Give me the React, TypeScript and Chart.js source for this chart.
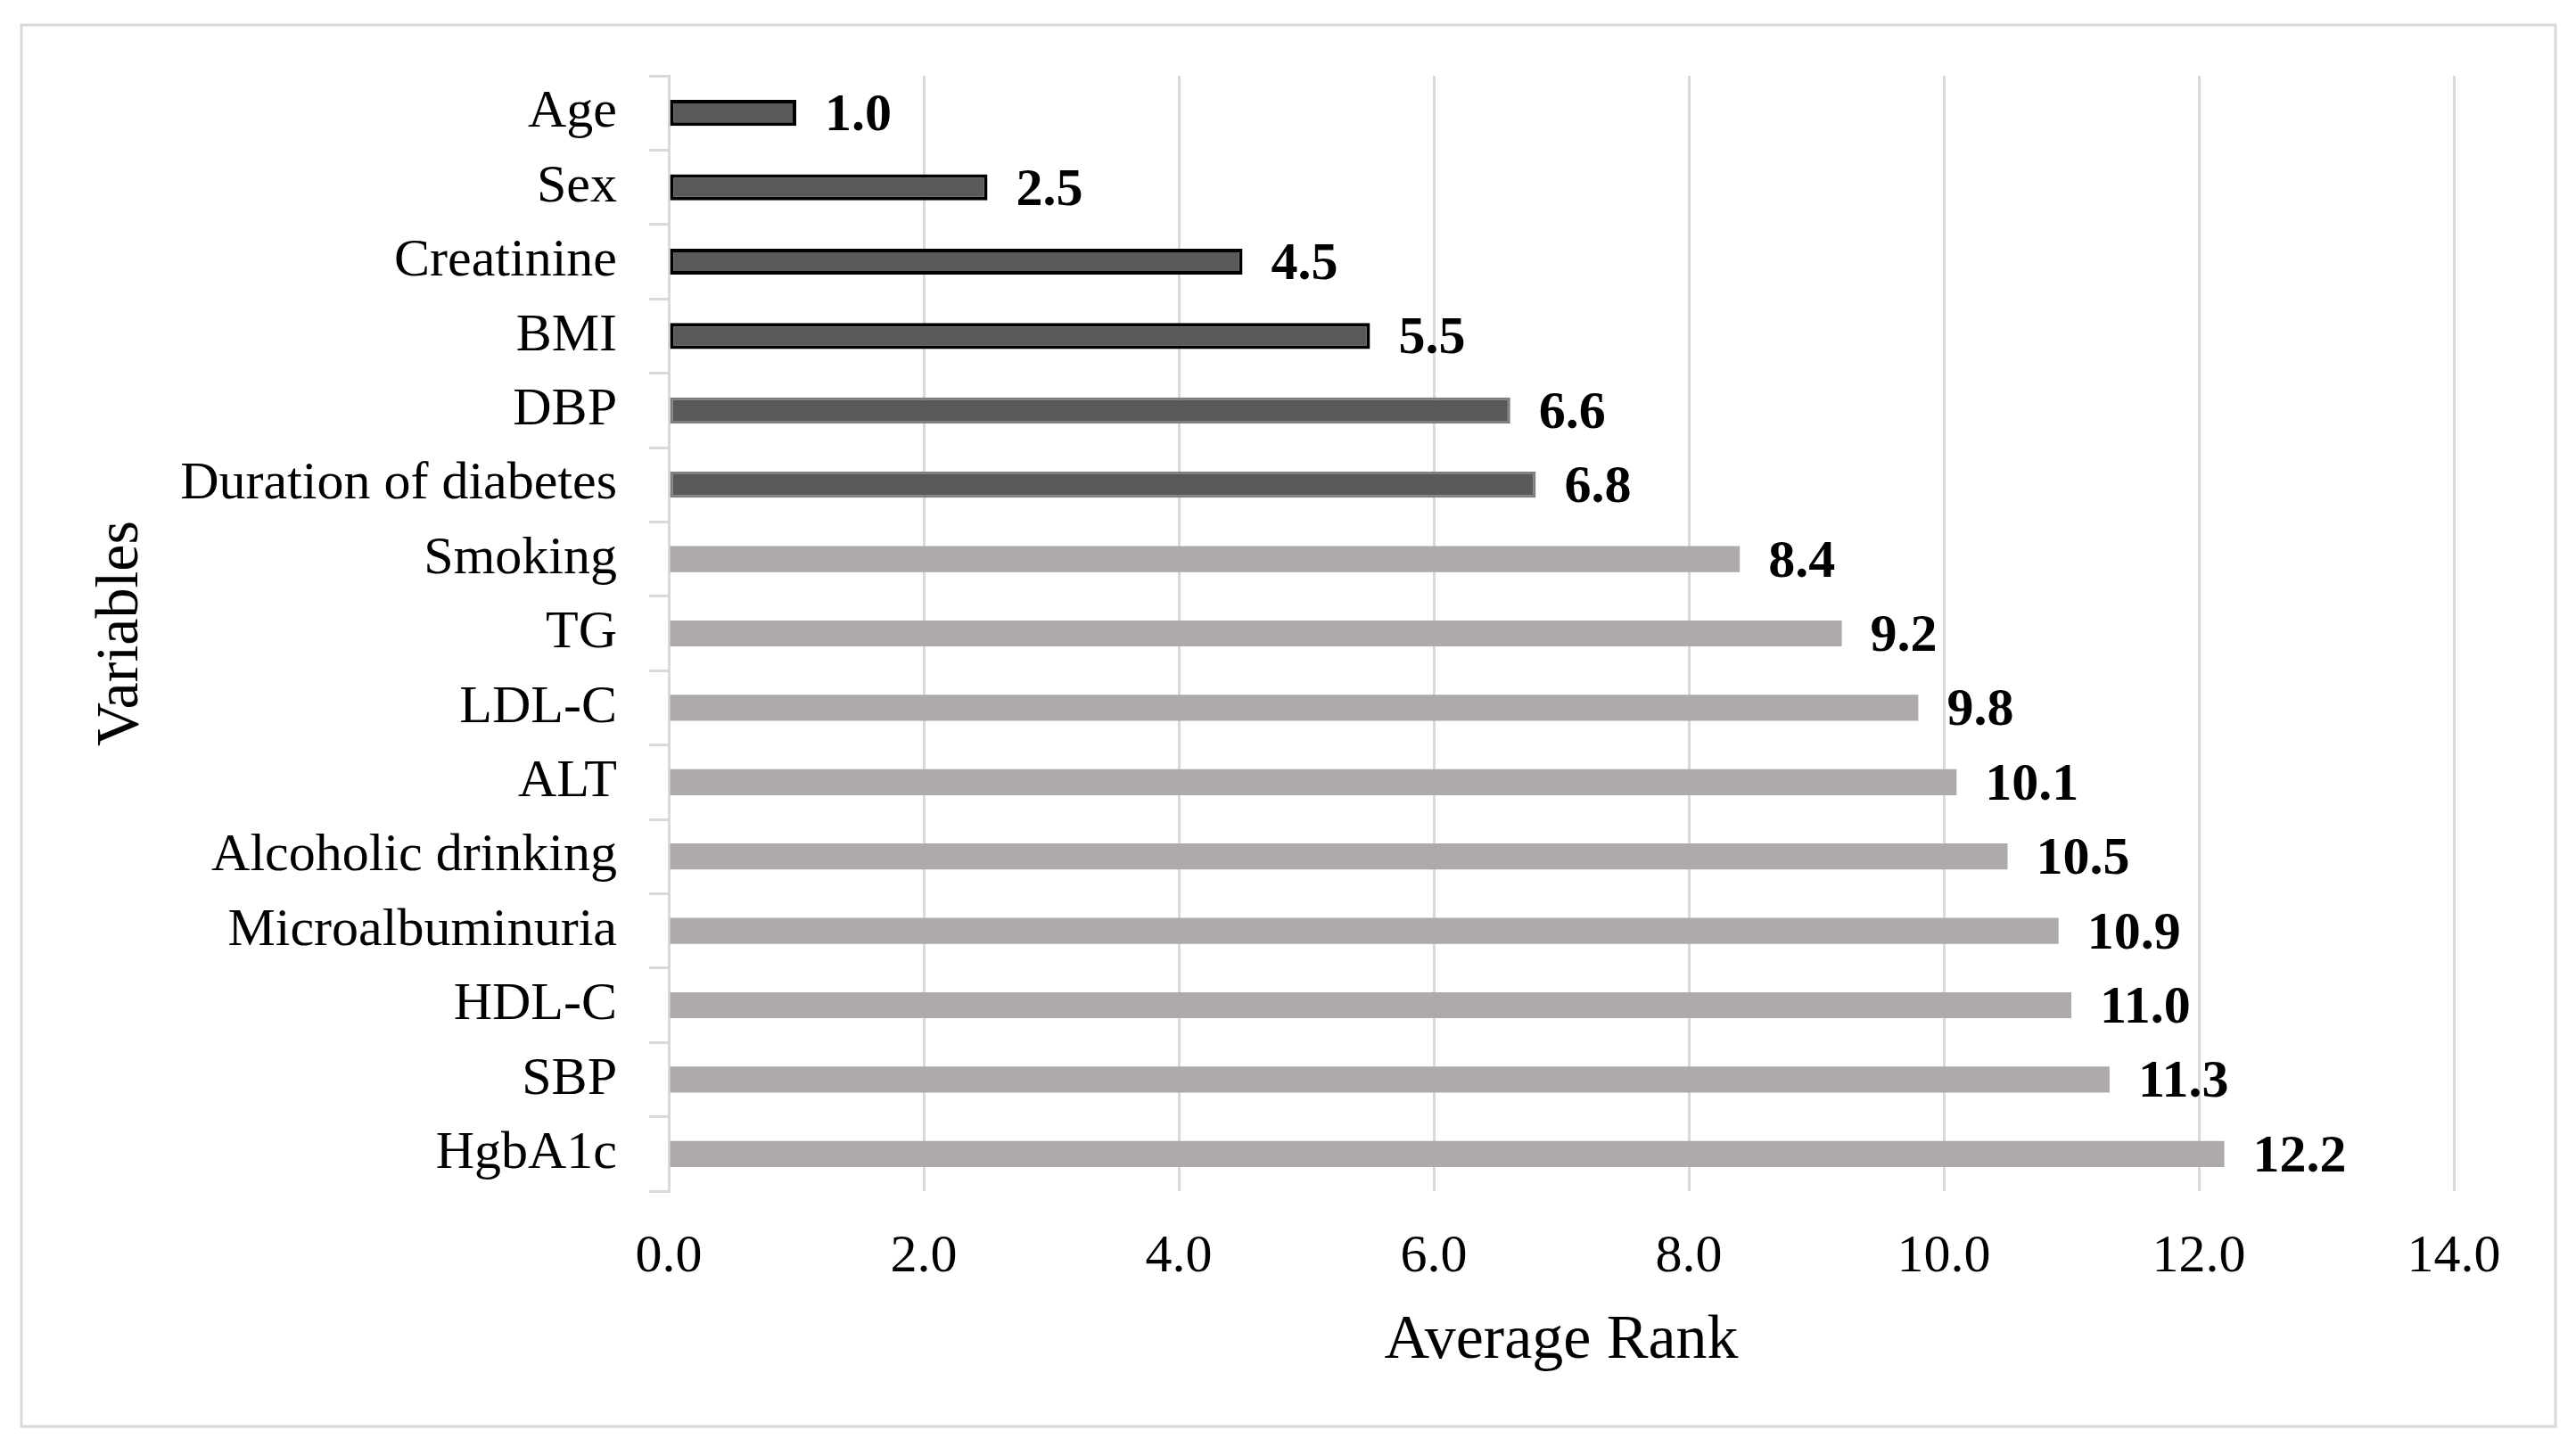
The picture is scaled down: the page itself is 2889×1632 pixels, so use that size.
import React, { useEffect, useRef } from 'react';
import { Chart, registerables } from 'chart.js';

Chart.register(...registerables);

// ---- data ----
const categories: string[] = [
  'Age',
  'Sex',
  'Creatinine',
  'BMI',
  'DBP',
  'Duration of diabetes',
  'Smoking',
  'TG',
  'LDL-C',
  'ALT',
  'Alcoholic drinking',
  'Microalbuminuria',
  'HDL-C',
  'SBP',
  'HgbA1c',
];
const averageRank: number[] = [1.0, 2.5, 4.5, 5.5, 6.6, 6.8, 8.4, 9.2, 9.8, 10.1, 10.5, 10.9, 11.0, 11.3, 12.2];
const xTickValues: number[] = [0, 2, 4, 6, 8, 10, 12, 14];
const xAxisTitle = 'Average Rank';
const yAxisTitle = 'Variables';
const highlightedCount = 6; // first six variables drawn dark

const W = 2889;
const H = 1632;
const SERIF = '"Liberation Serif", "Times New Roman", "DejaVu Serif", serif';

const frame = {
  id: 'frame',
  beforeDraw(chart: any) {
    const ctx = chart.ctx;
    ctx.save();
    ctx.fillStyle = '#ffffff';
    ctx.fillRect(0, 0, chart.width, chart.height);
    ctx.strokeStyle = '#d9d9d9';
    ctx.lineWidth = 3;
    ctx.strokeRect(24, 28, 2842, 1572);
    ctx.restore();
  },
};

const valueLabels = {
  id: 'valueLabels',
  afterDatasetsDraw(chart: any) {
    const ctx = chart.ctx;
    const meta = chart.getDatasetMeta(0);
    ctx.save();
    ctx.font = `bold 60px ${SERIF}`;
    ctx.fillStyle = '#000000';
    ctx.textAlign = 'left';
    ctx.textBaseline = 'middle';
    meta.data.forEach((el: any, i: number) => {
      const v = chart.data.datasets[0].data[i] as number;
      ctx.fillText(v.toFixed(1), el.x + 32, el.y + 4);
    });
    ctx.restore();
  },
};

export default function App() {
  const ref = useRef<HTMLCanvasElement | null>(null);

  useEffect(() => {
    if (!ref.current) return;
    const bg = categories.map((_, i) => (i < highlightedCount ? '#595959' : '#aeaaaa'));
    const bc = categories.map((_, i) => (i < 4 ? '#000000' : i < highlightedCount ? '#7f7f7f' : 'rgba(0,0,0,0)'));
    const bw = categories.map((_, i) => (i < 4 ? 4 : i < highlightedCount ? 3 : 0));

    const chart = new Chart(ref.current, {
      type: 'bar',
      data: {
        labels: categories,
        datasets: [
          {
            label: xAxisTitle,
            data: averageRank,
            backgroundColor: bg,
            borderColor: bc,
            borderWidth: bw,
            borderSkipped: false,
            barPercentage: 0.35,
            categoryPercentage: 1.0,
          },
        ],
      },
      options: {
        indexAxis: 'y',
        animation: false,
        responsive: false,
        maintainAspectRatio: false,
        devicePixelRatio: 1,
        layout: { padding: { left: 0, top: 85, right: 137, bottom: 0 } },
        plugins: {
          legend: { display: false },
          tooltip: { enabled: false },
          title: { display: false },
        },
        scales: {
          x: {
            type: 'linear',
            min: 0,
            max: 14,
            afterBuildTicks: (scale: any) => {
              scale.ticks = xTickValues.map((v) => ({ value: v }));
            },
            afterFit: (scale: any) => {
              scale.height = 296;
            },
            grid: {
              color: '#d9d9d9',
              lineWidth: 3,
              drawTicks: false,
            },
            border: { display: false },
            ticks: {
              padding: 38,
              color: '#000000',
              font: { family: SERIF, size: 60 },
              callback: (v: any) => Number(v).toFixed(1),
            },
            title: {
              display: true,
              text: xAxisTitle,
              color: '#000000',
              font: { family: SERIF, size: 70 },
              padding: { top: 0, bottom: 85 },
            },
          },
          y: {
            type: 'category',
            afterFit: (scale: any) => {
              scale.width = 750;
            },
            grid: {
              display: true,
              drawOnChartArea: false,
              drawTicks: true,
              tickLength: 22,
              color: '#d9d9d9',
              lineWidth: 3,
              offset: true,
            },
            border: { display: true, color: '#d9d9d9', width: 3 },
            ticks: {
              autoSkip: false,
              padding: 36,
              color: '#000000',
              font: { family: SERIF, size: 60 },
            },
            title: {
              display: true,
              text: yAxisTitle,
              color: '#000000',
              font: { family: SERIF, size: 68 },
              padding: { top: 95, bottom: 0 },
            },
          },
        },
      },
      plugins: [frame, valueLabels],
    });
    return () => chart.destroy();
  }, []);

  return (
    <div style={{ position: 'absolute', left: 0, top: 0, width: W, height: H, background: '#fff' }}>
      <canvas ref={ref} width={W} height={H} style={{ width: W, height: H, display: 'block' }} />
    </div>
  );
}
